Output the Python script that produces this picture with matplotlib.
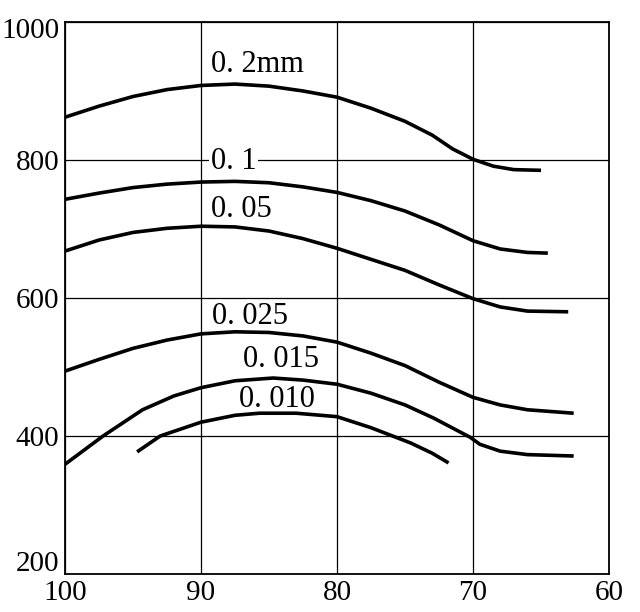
import matplotlib.pyplot as plt
from matplotlib.transforms import ScaledTranslation

plt.rcParams['font.family'] = ['Liberation Serif', 'DejaVu Serif']

# curve data (x descending, axis reversed)
x_02 = [100, 97.5, 95, 92.5, 90, 87.5, 85, 82.5, 80, 77.5, 75, 73, 71.5, 70, 68.5, 67, 65]
y_02 = [862, 878, 892, 902, 908, 910, 907, 900, 891, 875, 856, 836, 816, 801, 791, 786, 785]

x_01 = [100, 97.5, 95, 92.5, 90, 87.5, 85, 82.5, 80, 77.5, 75, 72.5, 70, 68, 66, 64.5]
y_01 = [743, 752, 760, 765, 768, 769, 767, 761, 753, 741, 726, 706, 683, 671, 666, 665]

x_005 = [100, 97.5, 95, 92.5, 90, 87.5, 85, 82.5, 80, 77.5, 75, 72.5, 70, 68, 66, 63]
y_005 = [668, 684, 695, 701, 704, 703, 697, 686, 672, 656, 640, 619, 599, 587, 581, 580]

x_0025 = [100, 97.5, 95, 92.5, 90, 87.5, 85, 82.5, 80, 77.5, 75, 72.5, 70, 68, 66, 62.6]
y_0025 = [494, 511, 527, 539, 548, 551, 550, 545, 536, 520, 502, 478, 456, 445, 438, 433]

x_0015 = [100, 97.2, 94.3, 92, 90, 87.5, 84.7, 82.5, 80, 77.5, 75, 72.9, 70.2, 69.5, 68, 66, 62.6]
y_0015 = [359, 400, 438, 458, 470, 480, 484, 481, 475, 462, 445, 426, 398, 388, 378, 373, 371]

x_0010 = [94.7, 93, 90, 87.5, 85.7, 83, 80, 77.5, 74.6, 73, 71.8]
y_0010 = [377, 400, 420, 430, 433, 433, 428, 412, 390, 375, 361]

curves = [(x_02, y_02), (x_01, y_01), (x_005, y_005),
          (x_0025, y_0025), (x_0015, y_0015), (x_0010, y_0010)]

labels = ['0. 2mm', '0. 1', '0. 05', '0. 025', '0. 015', '0. 010']
label_x = [89.3, 89.3, 89.3, 89.2, 86.9, 87.2]
label_y = [927, 787, 717, 562, 500, 442]

fig = plt.figure(figsize=(6.4, 6.12), dpi=100)
ax = fig.add_axes([0.1016, 0.0621, 0.85, 0.902])

for xs, ys in curves:
    ax.plot(xs, ys, color='black', linewidth=2.6, solid_capstyle='butt',
            solid_joinstyle='round', zorder=3)

for lab, lx, ly in zip(labels, label_x, label_y):
    t = ax.text(lx, ly, lab, fontsize=22, ha='left', va='baseline', zorder=4)
    if lab == '0. 1':
        t.set_bbox(dict(facecolor='white', edgecolor='none', pad=1))

ax.set_xlim(100, 60)
ax.set_ylim(200, 1000)
ax.set_xticks([100, 90, 80, 70, 60])
ax.set_yticks([200, 400, 600, 800, 1000])
ax.grid(True, color='black', linewidth=0.9)
ax.set_axisbelow(True)
ax.tick_params(axis='y', length=0, labelsize=21, pad=4)
ax.tick_params(axis='x', length=0, labelsize=21, pad=4)
for sp in ax.spines.values():
    sp.set_linewidth(1.3)

# nudge the end y labels: lift 200 clear of the x labels, drop 1000 off the top edge
ylbls = ax.get_yticklabels()
ylbls[0].set_transform(ylbls[0].get_transform() + ScaledTranslation(0, 9 / 72, fig.dpi_scale_trans))
ylbls[-1].set_transform(ylbls[-1].get_transform() + ScaledTranslation(0, -4 / 72, fig.dpi_scale_trans))

fig.savefig('out.png', dpi=100)
